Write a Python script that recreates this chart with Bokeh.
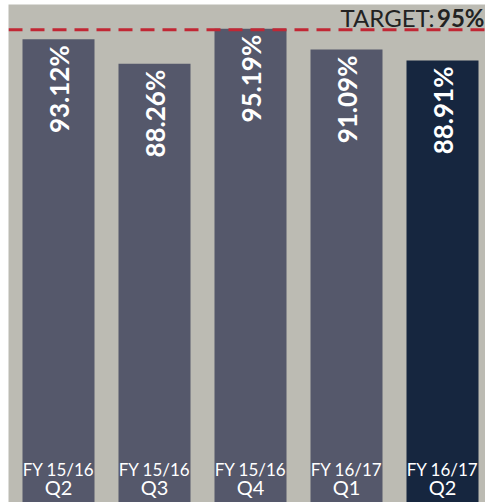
import math
from bokeh.plotting import figure
from bokeh.models import ColumnDataSource, Range1d, Label, Span
from bokeh.core.properties import value
from bokeh.embed import file_html
from bokeh.resources import INLINE

# ---- data ----
fiscal_years = ["FY 15/16", "FY 15/16", "FY 15/16", "FY 16/17", "FY 16/17"]
quarters = ["Q2", "Q3", "Q4", "Q1", "Q2"]
compliance = [93.12, 88.26, 95.19, 91.09, 88.91]
target = 95

# ---- styles ----
BG = "#bcbbb3"
BAR = "#55586b"
BAR_LAST = "#16263f"
RED = "#c12734"
FONT = "Lato"

n = len(compliance)
xs = list(range(n))
colors = [BAR] * (n - 1) + [BAR_LAST]

src = ColumnDataSource(dict(
    x=xs,
    top=compliance,
    color=colors,
    label=[f"{v:.2f}%" for v in compliance],
    fy=fiscal_years,
    q=quarters,
    base=[0] * n,
))

W, H = 485, 502
FW = 477  # frame width
p = figure(width=W, height=H, output_backend="svg", toolbar_location=None,
           x_range=Range1d(-50 / 96, -50 / 96 + FW / 96),
           y_range=Range1d(1.4, 100),
           min_border_left=8, min_border_top=4,
           min_border_right=0, min_border_bottom=0)
p.axis.visible = False
p.grid.visible = False
p.outline_line_color = None
p.background_fill_color = BG
p.border_fill_color = "white"

p.vbar(x="x", top="top", bottom=0, width=0.75, fill_color="color",
       line_color=None, source=src)

# value labels (rotated, inside top of bars)
p.text(x="x", y="top", text="label", source=src, angle=math.pi / 2,
       text_align="right", text_baseline="middle", y_offset=6,
       text_color="white", text_font=value(FONT), text_font_style="bold",
       text_font_size="26px")

# category labels at bottom of bars
p.text(x="x", y="base", text="fy", source=src, text_align="center",
       text_baseline="middle", y_offset=-40, text_color="white",
       text_font=value(FONT), text_font_size="17px")
p.text(x="x", y="base", text="q", source=src, text_align="center",
       text_baseline="middle", y_offset=-23, text_color="white",
       text_font=value(FONT), text_font_size="20px")

# target line
p.add_layout(Span(location=target, dimension="width", line_color=RED,
                  line_width=3, line_dash="14 8"))

x_end = p.x_range.end
p.add_layout(Label(x=x_end, y=target, text=f"{target}%", text_align="right",
                   text_baseline="middle", x_offset=-1, y_offset=12,
                   text_font=FONT, text_font_style="bold",
                   text_font_size="24px", text_color="#222222"))
p.add_layout(Label(x=x_end, y=target, text="TARGET:", text_align="right",
                   text_baseline="middle", x_offset=-51, y_offset=12,
                   text_font=FONT, text_font_size="24px",
                   text_color="#222222"))

open("out.html", "w").write(file_html(p, INLINE))
